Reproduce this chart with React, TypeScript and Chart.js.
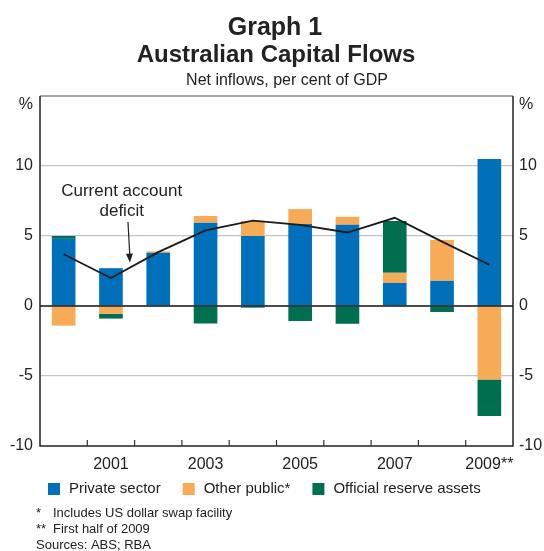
import React, { useEffect, useRef } from 'react';
import { Chart, registerables } from 'chart.js';

Chart.register(...registerables);

// ---- Data ----
const years = ['2000', '2001', '2002', '2003', '2004', '2005', '2006', '2007', '2008', '2009**'];
const privateSector = [4.8, 2.7, 3.8, 5.95, 5.0, 5.85, 5.8, 1.65, 1.8, 10.5];
const otherPublic = [-1.4, -0.55, 0.1, 0.48, 1.07, 1.07, 0.57, 0.72, 2.92, -5.25];
const reserveAssets = [0.2, -0.35, 0, -1.25, -0.12, -1.07, -1.27, 3.7, -0.43, -2.6];
const currentAccountDeficit = [3.7, 2.0, 3.85, 5.4, 6.1, 5.8, 5.25, 6.3, 4.6, 2.95];
const yTickValues = [-10, -5, 0, 5, 10, 15];

const titleLines = ['Graph 1', 'Australian Capital Flows'];
const subtitle = 'Net inflows, per cent of GDP';
const footnotes: [string, string][] = [
  ['*', 'Includes US dollar swap facility'],
  ['**', 'First half of 2009'],
];
const sourceNote = 'Sources: ABS; RBA';
const annotationLines = ['Current account', 'deficit'];

const FONT = '"Liberation Sans", Arial, sans-serif';
const BLUE = '#0070bb';
const ORANGE = '#f8ab57';
const GREEN = '#006f4f';
const TEXT = '#222';

const overlayPlugin = {
  id: 'overlay',
  afterDatasetsDraw(chart: any) {
    const { ctx, chartArea: a, scales } = chart;
    const y = scales.y;
    ctx.save();
    const y0 = y.getPixelForValue(0);
    ctx.strokeStyle = '#111';
    ctx.lineWidth = 1.5;
    ctx.beginPath();
    ctx.moveTo(a.left, y0);
    ctx.lineTo(a.right, y0);
    ctx.stroke();
    ctx.restore();
  },
  afterDraw(chart: any) {
    const { ctx, chartArea: a, scales } = chart;
    const x = scales.x;
    const y = scales.y;
    ctx.save();

    // frame
    ctx.lineWidth = 1.5;
    ctx.strokeStyle = '#8a8a8a';
    ctx.beginPath();
    ctx.moveTo(a.left, a.top);
    ctx.lineTo(a.right, a.top);
    ctx.stroke();
    ctx.strokeStyle = '#222';
    ctx.beginPath();
    ctx.moveTo(a.left, a.top);
    ctx.lineTo(a.left, a.bottom);
    ctx.lineTo(a.right, a.bottom);
    ctx.lineTo(a.right, a.top);
    ctx.stroke();

    // inward x ticks at category boundaries
    ctx.lineWidth = 1.2;
    ctx.strokeStyle = '#333';
    for (let i = 1; i < years.length; i++) {
      const px = (x.getPixelForValue(i - 1) + x.getPixelForValue(i)) / 2;
      ctx.beginPath();
      ctx.moveTo(px, a.bottom);
      ctx.lineTo(px, a.bottom - 6);
      ctx.stroke();
    }

    // % labels
    ctx.fillStyle = TEXT;
    ctx.font = `16px ${FONT}`;
    ctx.textBaseline = 'middle';
    ctx.textAlign = 'right';
    ctx.fillText('%', a.left - 7, a.top + 9);
    ctx.textAlign = 'left';
    ctx.fillText('%', a.right + 6, a.top + 9);

    // titles
    ctx.textAlign = 'center';
    ctx.textBaseline = 'alphabetic';
    ctx.font = `bold 25px ${FONT}`;
    ctx.fillText(titleLines[0], 275, 35);
    ctx.font = `bold 24px ${FONT}`;
    ctx.fillText(titleLines[1], 276, 62);
    ctx.font = `16px ${FONT}`;
    ctx.fillText(subtitle, 287, 85);

    // annotation
    ctx.font = `17px ${FONT}`;
    const ax = x.getPixelForValue(1.227);
    ctx.fillText(annotationLines[0], ax, y.getPixelForValue(7.86));
    ctx.fillText(annotationLines[1], ax, y.getPixelForValue(6.43));
    const tx0 = x.getPixelForValue(1.36);
    const ty0 = y.getPixelForValue(6.0);
    const tx1 = x.getPixelForValue(1.4);
    const ty1 = y.getPixelForValue(3.1);
    ctx.strokeStyle = '#222';
    ctx.lineWidth = 1.2;
    ctx.beginPath();
    ctx.moveTo(tx0, ty0);
    ctx.lineTo(tx1, ty1 - 6);
    ctx.stroke();
    const ang = Math.atan2(ty1 - ty0, tx1 - tx0);
    ctx.fillStyle = '#222';
    ctx.beginPath();
    ctx.moveTo(tx1, ty1);
    ctx.lineTo(tx1 - 9 * Math.cos(ang) + 3.5 * Math.sin(ang), ty1 - 9 * Math.sin(ang) - 3.5 * Math.cos(ang));
    ctx.lineTo(tx1 - 9 * Math.cos(ang) - 3.5 * Math.sin(ang), ty1 - 9 * Math.sin(ang) + 3.5 * Math.cos(ang));
    ctx.closePath();
    ctx.fill();

    // legend
    ctx.font = `15px ${FONT}`;
    ctx.textAlign = 'left';
    ctx.textBaseline = 'middle';
    let lx = 48;
    const ly = 489;
    chart.data.datasets.forEach((ds: any) => {
      if (ds.type === 'line') return;
      ctx.fillStyle = ds.backgroundColor;
      ctx.fillRect(lx, ly - 6, 12, 12);
      ctx.fillStyle = TEXT;
      ctx.fillText(ds.label, lx + 21, ly);
      lx += 21 + ctx.measureText(ds.label).width + 22;
    });

    // footnotes
    ctx.font = `13px ${FONT}`;
    ctx.fillStyle = TEXT;
    footnotes.forEach(([mark, text], i) => {
      const fy = 513 + i * 16;
      ctx.fillText(mark, 36, fy);
      ctx.fillText(text, 53, fy);
    });
    ctx.fillText(sourceNote, 36, 545);

    ctx.restore();
  },
};

export default function App() {
  const ref = useRef<HTMLCanvasElement | null>(null);

  useEffect(() => {
    if (!ref.current) return;
    const tickFont = { family: FONT, size: 16 };
    const chart = new Chart(ref.current, {
      type: 'bar',
      data: {
        labels: years,
        datasets: [
          {
            type: 'line',
            label: 'Current account deficit',
            data: currentAccountDeficit,
            borderColor: '#1a1a1a',
            borderWidth: 1.8,
            pointRadius: 0,
            tension: 0,
            fill: false,
            stack: 'cad',
            order: -1,
          } as any,
          {
            label: 'Private sector',
            data: privateSector,
            backgroundColor: BLUE,
            stack: 'flows',
          },
          {
            label: 'Other public*',
            data: otherPublic,
            backgroundColor: ORANGE,
            stack: 'flows',
          },
          {
            label: 'Official reserve assets',
            data: reserveAssets,
            backgroundColor: GREEN,
            stack: 'flows',
          },
        ],
      },
      options: {
        responsive: false,
        animation: false,
        layout: { padding: { top: 96, left: 0, right: 0, bottom: 0 } },
        datasets: { bar: { barPercentage: 0.5, categoryPercentage: 1 } },
        plugins: { legend: { display: false }, tooltip: { enabled: false }, title: { display: false } },
        scales: {
          x: {
            stacked: true,
            grid: { display: false },
            border: { display: false },
            ticks: {
              autoSkip: false,
              maxRotation: 0,
              padding: 1,
              color: TEXT,
              font: tickFont,
              callback: (_v: any, i: number) => (i % 2 === 1 ? years[i] : ''),
            },
            afterFit: (s: any) => {
              s.height = 105;
            },
          },
          y: {
            stacked: true,
            min: yTickValues[0],
            max: yTickValues[yTickValues.length - 1],
            afterBuildTicks: (s: any) => {
              s.ticks = yTickValues.map((v) => ({ value: v }));
            },
            ticks: {
              padding: 7,
              color: TEXT,
              font: tickFont,
              callback: (v: any) => (v === 15 ? '' : String(v)),
            },
            grid: {
              drawTicks: false,
              lineWidth: 1.2,
              color: (c: any) =>
                c.tick && [10, 5, -5].includes(c.tick.value) ? '#c4c4cc' : 'rgba(0,0,0,0)',
            },
            border: { display: false },
            afterFit: (s: any) => {
              s.width = 40;
            },
          },
          y2: {
            position: 'right',
            min: yTickValues[0],
            max: yTickValues[yTickValues.length - 1],
            afterBuildTicks: (s: any) => {
              s.ticks = yTickValues.map((v) => ({ value: v }));
            },
            ticks: {
              padding: 6,
              color: TEXT,
              font: tickFont,
              callback: (v: any) => (v === 15 ? '' : String(v)),
            },
            grid: { display: false, drawTicks: false },
            border: { display: false },
            afterFit: (s: any) => {
              s.width = 31;
            },
          },
        },
      } as any,
      plugins: [overlayPlugin],
    });
    return () => chart.destroy();
  }, []);

  return (
    <div style={{ position: 'fixed', left: 0, top: 0, width: 544, height: 551, background: '#fff' }}>
      <canvas ref={ref} width={544} height={551} style={{ width: 544, height: 551, display: 'block' }} />
    </div>
  );
}
